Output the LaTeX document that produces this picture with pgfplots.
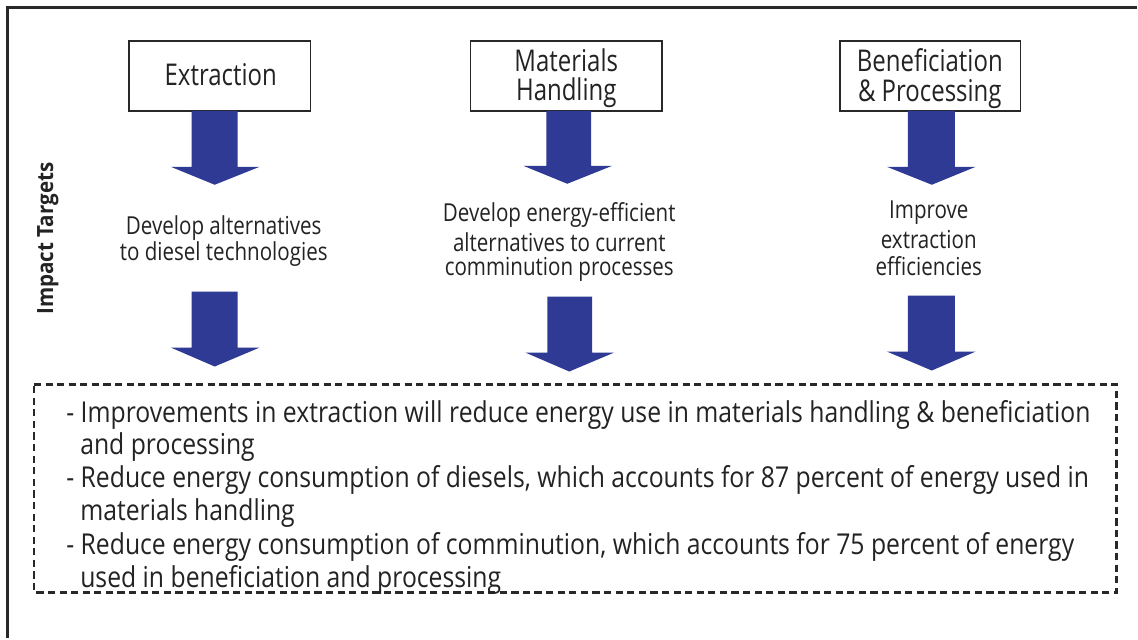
\documentclass[border=0pt]{standalone}
\usepackage{pgfplots}
\pgfplotsset{compat=1.18}
\usepackage{fontspec}
\setmainfont{Open Sans}[FakeStretch=0.80]
\newfontfamily\midfont{Open Sans}[FakeStretch=0.83]
\newfontfamily\botfont{Open Sans}[FakeStretch=0.86]
\newfontfamily\boldnarrow{Open Sans}[FakeStretch=0.92]
\definecolor{arrowblue}{RGB}{46,58,148}
\definecolor{txt}{RGB}{35,35,35}
\definecolor{frame}{RGB}{40,40,40}
\begin{document}
\begin{tikzpicture}
\begin{axis}[width=569pt, height=319.5pt, scale only axis,
  xmin=0, xmax=1138, ymin=0, ymax=639, y dir=reverse,
  hide axis, clip=false]
% background (sets size)
\addplot[draw=none, fill=white] coordinates {(0,0) (1138,0) (1138,639) (0,639)} --cycle;
% outer frame (partially visible)
\addplot[frame, line width=1.5pt] coordinates {(8,639) (8,8) (1138,8)};
% header boxes
\addplot[frame, line width=0.8pt, fill=white] coordinates {(129,41) (311,41) (311,111) (129,111)} --cycle;
\addplot[frame, line width=0.8pt, fill=white] coordinates {(471,41) (663,41) (663,111) (471,111)} --cycle;
\addplot[frame, line width=0.8pt, fill=white] coordinates {(841,41) (1022,41) (1022,111) (841,111)} --cycle;
% arrows (top row)
\addplot[draw=none, fill=arrowblue] coordinates {(192,111) (238,111) (238,167) (260,167) (215,185) (171,167) (192,167)} --cycle;
\addplot[draw=none, fill=arrowblue] coordinates {(547,111) (592,111) (592,166) (613,166) (568,184) (524,166) (547,166)} --cycle;
\addplot[draw=none, fill=arrowblue] coordinates {(909,111) (956,111) (956,167) (977,167) (933,185) (888,167) (909,167)} --cycle;
% arrows (bottom row)
\addplot[draw=none, fill=arrowblue] coordinates {(192,292) (238,292) (238,348) (260,348) (215,367) (171,348) (192,348)} --cycle;
\addplot[draw=none, fill=arrowblue] coordinates {(548,297) (593,297) (593,353) (615,353) (570,372) (526,353) (548,353)} --cycle;
\addplot[draw=none, fill=arrowblue] coordinates {(909,296) (956,296) (956,352) (977,352) (933,371) (888,352) (909,352)} --cycle;
% dashed box
\addplot[frame, line width=1.3pt, dash pattern=on 3.6pt off 2.2pt] coordinates {(34,385) (1118,385) (1118,593) (34,593)} --cycle;
% box labels
\node[txt, font=\fontsize{15}{16}\selectfont] at (axis cs:221,75) {Extraction};
\node[txt, font=\fontsize{15}{16}\selectfont] at (axis cs:567,60) {Materials};
\node[txt, font=\fontsize{15}{16}\selectfont] at (axis cs:567,93) {Handling};
\node[txt, font=\fontsize{15}{16}\selectfont] at (axis cs:931,60) {Beneficiation};
\node[txt, font=\fontsize{15}{16}\selectfont] at (axis cs:931,94) {\&\ Processing};
% middle texts
\node[txt, font=\midfont\fontsize{12.4}{13}\selectfont] at (axis cs:224,228) {Develop alternatives};
\node[txt, font=\midfont\fontsize{12.4}{13}\selectfont] at (axis cs:224,254) {to diesel technologies};
\node[txt, font=\midfont\fontsize{12.4}{13}\selectfont] at (axis cs:560,215) {Develop energy-efficient};
\node[txt, font=\midfont\fontsize{12.4}{13}\selectfont] at (axis cs:560,243) {alternatives to current};
\node[txt, font=\midfont\fontsize{12.4}{13}\selectfont] at (axis cs:560,270) {comminution processes};
\node[txt, font=\midfont\fontsize{12.4}{13}\selectfont] at (axis cs:930,213) {Improve};
\node[txt, font=\midfont\fontsize{12.4}{13}\selectfont] at (axis cs:930,240) {extraction};
\node[txt, font=\midfont\fontsize{12.4}{13}\selectfont] at (axis cs:930,267) {efficiencies};
% side label
\node[txt, rotate=90, font=\boldnarrow\bfseries\fontsize{11.2}{12}\selectfont] at (axis cs:48,239) {Impact Targets};
% bottom texts
\node[txt, anchor=west, inner xsep=0pt, font=\botfont\fontsize{14.4}{15}\selectfont] at (axis cs:66,416) {- Improvements in extraction will reduce energy use in materials handling \&\ beneficiation};
\node[txt, anchor=west, inner xsep=0pt, font=\botfont\fontsize{14.4}{15}\selectfont] at (axis cs:80,448) {and processing};
\node[txt, anchor=west, inner xsep=0pt, font=\botfont\fontsize{14.4}{15}\selectfont] at (axis cs:66,481) {- Reduce energy consumption of diesels, which accounts for 87 percent of energy used in};
\node[txt, anchor=west, inner xsep=0pt, font=\botfont\fontsize{14.4}{15}\selectfont] at (axis cs:80,514) {materials handling};
\node[txt, anchor=west, inner xsep=0pt, font=\botfont\fontsize{14.4}{15}\selectfont] at (axis cs:66,548) {- Reduce energy consumption of comminution, which accounts for 75 percent of energy};
\node[txt, anchor=west, inner xsep=0pt, font=\botfont\fontsize{14.4}{15}\selectfont] at (axis cs:80,581) {used in beneficiation and processing};
\end{axis}
\end{tikzpicture}
\end{document}
